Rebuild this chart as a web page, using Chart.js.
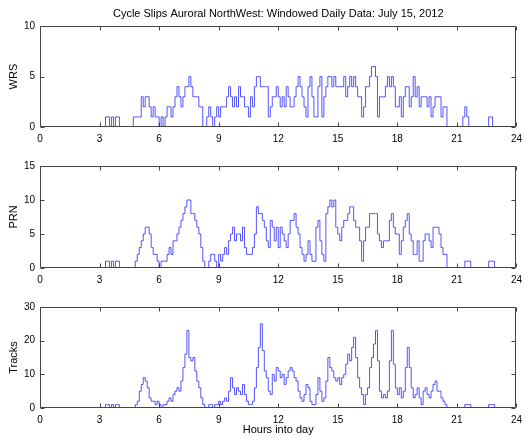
<!DOCTYPE html>
<html>
<head>
<meta charset="utf-8">
<script src="https://cdn.jsdelivr.net/npm/chart.js@4.4.0/dist/chart.umd.min.js"></script>
<style>
body { margin: 0; background: #fff; }
#wrap { position: relative; width: 528px; height: 440px; }
.pane { position: absolute; left: 0; width: 528px; }
</style>
</head>
<body>
<div id="wrap">
  <div class="pane" style="top:0;height:150px"><canvas id="c1"></canvas></div>
  <div class="pane" style="top:140px;height:150px"><canvas id="c2"></canvas></div>
  <div class="pane" style="top:281px;height:159px"><canvas id="c3"></canvas></div>
</div>
<script>
// windowed daily data, one value every 0.1 h starting at 3.0 h
var startHour = 3.0;
var stepHour = 0.1;

var wrs = [
  0,0,0, 1,1,0,1,0,1,1, 0,0,0,0,0,0,0,
  1,1,1,1,3,2,3,3,2,1,2,1,1,
  0,1,0,1,2,2,1,2,3,4,
  3,2,3,4,4,5,4,3,3,3,
  2,2,0,0,1,2,1,0,1,2,
  1,2,2,2,3,4,3,2,3,2,
  4,3,3,2,2,1,3,2,4,5,
  5,4,4,4,4,1,2,3,3,4,
  3,2,3,2,4,3,2,2,3,4,
  5,4,3,2,1,4,5,3,1,1,
  4,5,1,3,4,5,5,4,5,4,
  4,4,4,5,3,4,5,4,5,4,
  3,3,1,2,4,4,5,6,6,5,
  1,3,3,3,4,5,4,5,4,2,
  2,3,1,3,4,4,2,3,5,3,
  4,2,3,3,3,2,3,1,2,3,
  3,3,1,2,2,0,0,0,0,0,
  0,0,0,1,2,1,0,0,0,0,
  0,0,0,0,0,0,1,1,0,0,
  0
];

var prn = [
  0,0,0, 1,1,0,1,0,1,1, 0,0,0,0,0,0,0,0,
  1,2,
  3,4,5,6,6,5,3,2,2,1,
  0,1,1,1,2,3,2,4,4,5,
  6,7,8,9,10,10,8,8,7,6,
  5,3,1,0,0,1,2,2,1,0,
  2,1,2,3,2,4,5,6,4,5,
  5,4,6,3,2,2,2,3,5,9,
  8,8,7,6,4,3,7,6,4,6,
  3,6,5,4,3,5,7,7,8,6,
  5,3,2,1,2,4,2,1,1,6,
  7,4,2,1,8,9,10,9,10,6,
  5,4,6,7,7,8,9,9,7,6,
  6,4,1,4,6,6,8,8,8,8,
  5,4,3,4,4,4,7,8,6,5,
  5,2,4,6,7,8,5,4,2,2,
  4,1,1,4,5,5,4,3,6,6,
  6,5,3,2,2,0,0,0,0,0,
  0,0,0,0,1,1,1,0,0,0,
  0,0,0,0,0,0,1,1,1,0,
  0
];

var tracks = [
  0,0,0, 1,1,0,1,0,1,1, 0,0,0,0,0,0,0,0,
  1,2,
  5,7,9,8,6,3,2,2,1,2,
  1,0,1,1,2,3,2,4,5,6,
  5,8,12,16,23,15,14,15,11,8,
  6,3,1,0,0,1,1,0,1,1,
  2,1,2,3,2,5,9,6,4,6,
  5,4,7,4,2,1,1,2,6,12,
  18,25,17,11,9,5,4,10,8,12,
  11,9,10,7,9,11,12,11,9,8,
  5,3,2,4,7,6,2,1,1,4,
  9,5,2,3,8,15,12,11,9,8,
  9,7,9,10,13,16,14,18,21,15,
  9,6,4,1,4,6,12,15,19,23,
  14,5,3,4,3,5,14,23,13,6,
  4,6,3,5,12,18,12,6,3,4,
  6,3,1,5,6,4,3,5,7,8,
  5,5,3,2,1,0,0,0,0,0,
  0,0,0,0,1,1,1,0,0,0,
  0,0,0,0,0,0,1,1,1,0,
  0
];

var xMax = 24, xStep = 3;

Chart.defaults.font.family = '"Liberation Sans", Arial, sans-serif';
Chart.defaults.font.size = 10;
Chart.defaults.color = '#000';

function toPoints(vals) {
  var pts = [];
  for (var i = 0; i < vals.length; i++) {
    pts.push({ x: startHour + i * stepHour, y: vals[i] });
  }
  return pts;
}

// matlab style box with ticks pointing inwards
var frameTicks = {
  id: 'frameTicks',
  afterDraw: function (chart) {
    var a = chart.chartArea, ctx = chart.ctx;
    var xs = chart.scales.x, ys = chart.scales.y;
    var tl = 4;
    var L = Math.round(a.left) + 0.5, R = Math.round(a.right) - 0.5;
    var T = Math.round(a.top) + 0.5, B = Math.round(a.bottom) - 0.5;
    ctx.save();
    ctx.strokeStyle = '#444';
    ctx.lineWidth = 1;
    ctx.beginPath();
    xs.ticks.forEach(function (t) {
      var px = Math.round(xs.getPixelForValue(t.value)) + 0.5;
      ctx.moveTo(px, B); ctx.lineTo(px, B - tl);
      ctx.moveTo(px, T); ctx.lineTo(px, T + tl);
    });
    ys.ticks.forEach(function (t) {
      var py = Math.round(ys.getPixelForValue(t.value)) + 0.5;
      ctx.moveTo(L, py); ctx.lineTo(L + tl, py);
      ctx.moveTo(R, py); ctx.lineTo(R - tl, py);
    });
    ctx.rect(L, T, R - L, B - T);
    ctx.stroke();
    ctx.restore();
  }
};

function makeChart(id, vals, yMax, yStep, yName, xH, opts) {
  var ctx = document.getElementById(id).getContext('2d');
  return new Chart(ctx, {
    type: 'line',
    data: {
      datasets: [{
        data: toPoints(vals),
        stepped: true,
        borderColor: 'rgb(40, 40, 255)',
        borderWidth: 0.8,
        pointRadius: 0,
        fill: false
      }]
    },
    options: {
      responsive: true,
      maintainAspectRatio: false,
      animation: false,
      layout: { padding: { top: opts.padTop, right: 10, left: 0, bottom: 0 } },
      plugins: {
        legend: { display: false },
        tooltip: { enabled: false },
        title: opts.title
      },
      scales: {
        x: {
          type: 'linear',
          min: 0,
          max: xMax,
          grid: { display: false, drawTicks: false },
          border: { display: false },
          ticks: { stepSize: xStep, padding: 6, maxRotation: 0 },
          title: opts.xTitle,
          afterFit: function (s) { s.height = xH; }
        },
        y: {
          min: 0,
          max: yMax,
          grid: { display: false, drawTicks: false },
          border: { display: false },
          ticks: { stepSize: yStep, padding: 5 },
          title: { display: true, text: yName, font: { size: 11 }, padding: { top: 7, bottom: 0 } },
          afterFit: function (s) { s.width = 40; }
        }
      }
    },
    plugins: [frameTicks]
  });
}

makeChart('c1', wrs, 10, 5, 'WRS', 23, {
  padTop: 0,
  title: {
    display: true,
    fullSize: false,
    text: 'Cycle Slips Auroral NorthWest: Windowed Daily Data: July 15, 2012',
    font: { size: 11, weight: 'normal' },
    color: '#000',
    padding: { top: 7, bottom: 6 }
  }
});

makeChart('c2', prn, 15, 5, 'PRN', 22, {
  padTop: 26,
  title: { display: false }
});

makeChart('c3', tracks, 30, 10, 'Tracks', 32, {
  padTop: 26,
  title: { display: false },
  xTitle: { display: true, text: 'Hours into day', font: { size: 11 }, padding: { top: 0, bottom: 3 } }
});
</script>
</body>
</html>
